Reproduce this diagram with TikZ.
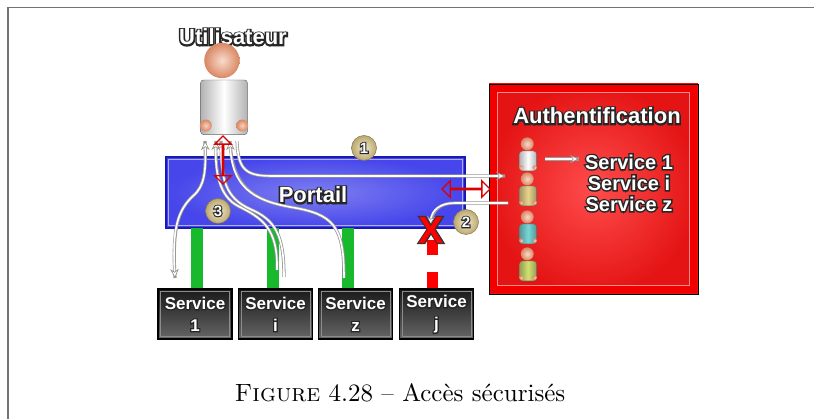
\documentclass[tikz,border=0pt]{standalone}
\usepackage{fontspec}
\newfontfamily\arialfont{Liberation Sans}
\newfontfamily\arialhalo{Liberation Sans Bold}[FakeBold=14]
\newfontfamily\arialrim{Liberation Sans Bold}[FakeBold=6]
\newcommand\halo[1]{\rlap{\arialhalo\color{black!85}#1}#1}
\usetikzlibrary{arrows.meta,shapes.arrows,positioning}

\definecolor{portalblue}{RGB}{70,70,235}
\definecolor{portaledge}{RGB}{25,25,180}
\definecolor{authred}{RGB}{228,20,20}
\definecolor{pillargreen}{RGB}{25,185,45}
\definecolor{balltan}{RGB}{220,198,130}
\definecolor{skin}{RGB}{240,150,110}
\definecolor{khaki}{RGB}{232,212,140}
\definecolor{teal}{RGB}{120,215,215}
\definecolor{lime}{RGB}{210,225,115}

\tikzset{
    flowtip/.tip={Stealth[length=9pt,width=8.5pt,color=black!45,fill=white,line width=0.6pt]},
    pics/persona/.style={code={
        \draw[black!60, line width=0.4pt, left color=#1!70!black, right color=#1!70!black,
              middle color=#1, rounded corners=3] (-9,0) rectangle (9,21);
        \shade[inner color=skin!45!white, outer color=skin!90!black] (-7,17.5) circle (2.3);
        \shade[inner color=skin!45!white, outer color=skin!90!black] (7,17.5) circle (2.3);
        \shade[inner color=skin!35!white, outer color=skin!90!black] (-0.8,-7.5) circle (6.8);
    }}
}

\begin{document}
\begin{tikzpicture}[
    x=1pt, y=-1pt,
    sans/.style={font=\arialfont\bfseries, text=white, inner sep=0pt},
    svcbox/.style={sans, draw=black, line width=1.3pt, top color=black!90, bottom color=black!60,
        minimum width=74pt, minimum height=50pt, align=center, font=\arialfont\bfseries\fontsize{17}{22}\selectfont},
    pillar/.style={pillargreen, line width=12pt},
    flow/.style={white, line width=1.6pt, #1, preaction={draw=black!40, line width=3.2pt, arrows=-}},
    ball/.style={circle, draw=balltan!60!black, line width=0.5pt, inner color=balltan!35!white,
        outer color=balltan!85!black, minimum size=25pt, inner sep=0pt, text=white,
        font=\arialfont\bfseries\fontsize{15}{15}\selectfont},
    swapmark/.style={double arrow, draw=red!85!black, line width=1.4pt, inner sep=0pt,
        minimum width=11pt, minimum height=48pt, double arrow head extend=7.5pt}
]
\useasboundingbox (0,0) rectangle (814,419);

% frame
\draw[black!55, line width=1.5pt] (8,419) -- (8,7.5) -- (814,7.5);

% user
\node[sans, font=\arialfont\bfseries\fontsize{22}{22}\selectfont] (usertitle) at (233,37) {\halo{Utilisateur}};
\pic[scale=2.6] at (224,80) {persona=white};

% portal
\node[draw=portaledge, line width=1.3pt, inner color=portalblue!70!white, outer color=portalblue,
      minimum width=299pt, minimum height=71pt] (portal) at (315.5,192.5) {};
\draw[portalblue!45!white, line width=0.8pt] ([shift={(3,-3)}]portal.south west) rectangle ([shift={(-3,3)}]portal.north east);
\node[sans, font=\arialfont\bfseries\fontsize{22}{22}\selectfont] (portaltext) at (313,195) {\halo{Portail}};

% services
\node[svcbox] (svc1) at (195,314) {\halo{Service}\\\halo{1}};
\node[svcbox] (svci) at (275.5,314) {\halo{Service}\\\halo{i}};
\node[svcbox] (svcz) at (355.5,314) {\halo{Service}\\\halo{z}};
\node[svcbox] (svcj) at (436.5,314) {\halo{Service}\\\halo{j}};
\foreach \s in {svc1,svci,svcz,svcj}
    \draw[black!45, line width=0.6pt] ([shift={(3,-3)}]\s.south west) rectangle ([shift={(-3,3)}]\s.north east);

% links portal -> services
\draw[pillar] (197,228) -- (197,288);
\draw[pillar] (273,228) -- (273,288);
\draw[pillar] (348,228) -- (348,288);
\draw[red, line width=11pt] (432,240) -- (432,255);
\draw[red, line width=11pt] (432,272) -- (432,288);

% authentication server
\node[draw=black, line width=0.8pt, inner color=red!70!white, outer color=authred,
      minimum width=209pt, minimum height=210pt] (auth) at (593.5,189) {};
\draw[red!95!black, line width=7pt] ([shift={(5,-5)}]auth.south west) rectangle ([shift={(-5,5)}]auth.north east);
\draw[red!45!white, line width=0.8pt] ([shift={(9,-9)}]auth.south west) rectangle ([shift={(-9,9)}]auth.north east);
\node[sans, font=\arialfont\bfseries\fontsize{22}{22}\selectfont] (authtitle) at (597,116) {\halo{Authentification}};
\pic[scale=0.95] at (528,151) {persona=white};
\pic[scale=0.95] at (528,186) {persona=khaki};
\pic[scale=0.95] at (528,224) {persona=teal};
\pic[scale=0.95] at (528,261) {persona=lime};
\node[sans, align=center, font=\arialfont\bfseries\fontsize{20}{21}\selectfont] (rights) at (629,183)
    {\halo{Service 1}\\\halo{Service i}\\\halo{Service z}};
\coordinate (p1) at (545,159);
\draw[flow={-flowtip}] (p1) -- ([xshift=-6pt]rights.west |- p1);

% request flows
\coordinate (u1) at (205,141);
\coordinate (u2) at (216,141);
\coordinate (u3) at (221,141);
\coordinate (u4) at (230,141);
\coordinate (u5) at (237,141);
\draw[flow={flowtip-flowtip}] (175,278) .. controls (172,228) and (178,210) .. (193,196)
    .. controls (205,186) and (206,170) .. (u1);
\draw[flow={-flowtip}] (277,270) .. controls (278,228) and (262,218) .. (238,206)
    .. controls (219,196) and (215,172) .. (u2);
\draw[flow={flowtip-}] (u3) .. controls (221,180) and (226,198) .. (250,209)
    .. controls (276,220) and (284,236) .. (284,277);
\draw[flow={flowtip-}] (u4) .. controls (232,186) and (252,200) .. (290,207)
    .. controls (334,214) and (344,226) .. (344,278);
\draw[flow={-flowtip}] (u5) .. controls (238,170) and (246,176) .. (272,176) -- (505,176);
\draw[flow={-flowtip}] (508,203) -- (455,203) .. controls (440,203) and (432,210) .. (430,225);

% red markers
\node[swapmark, rotate=90] (swapuser) at (223,160) {};
\node[swapmark] (swapauth) at (466,189) {};
\node[inner sep=0pt, text=red, font=\arialfont\bfseries\fontsize{38}{38}\selectfont] (deny) at (431,230)
    {\rlap{\arialrim\color{black!80}X}X};

% steps
\node[ball] (step1) at (364,148) {\halo{1}};
\node[ball] (step2) at (466,222) {\halo{2}};
\node[ball] (step3) at (218,211) {\halo{3}};

% caption
\node[anchor=base, inner sep=0pt] (caption) at (400,402)
    {\scalebox{2.5}{\textsc{Figure} 4.28 -- Accès sécurisés}};
\end{tikzpicture}
\end{document}
